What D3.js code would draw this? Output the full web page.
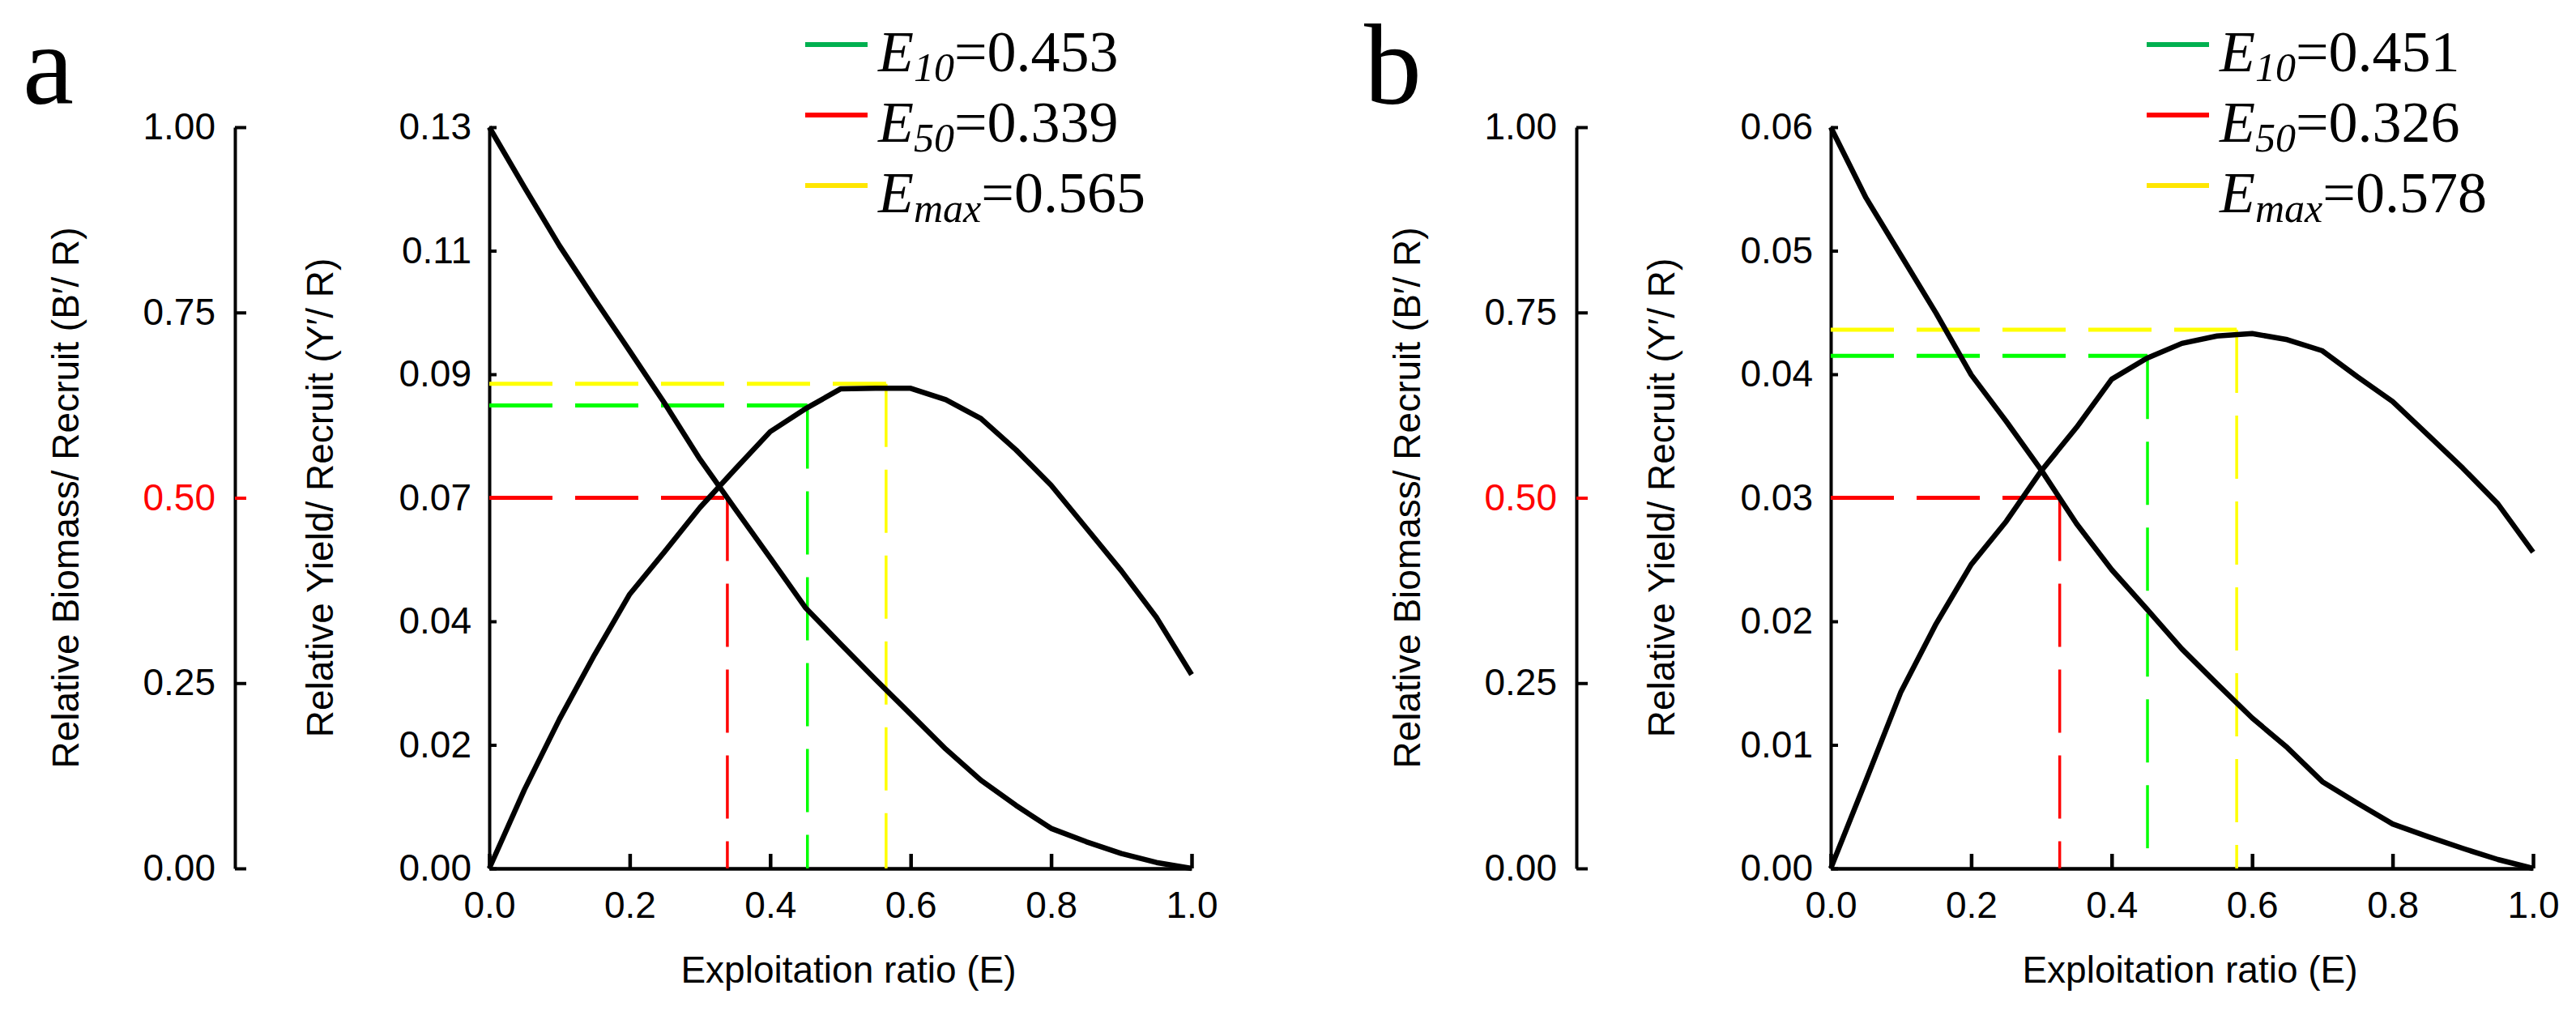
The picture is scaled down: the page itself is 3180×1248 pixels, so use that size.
<!DOCTYPE html>
<html>
<head>
<meta charset="utf-8">
<script src="https://cdn.jsdelivr.net/npm/d3@7"></script>
<style>
  body { margin: 0; background: #fff; }
</style>
</head>
<body>
<script>
// exploitation ratio grid shared by both panels
const eRatio = [0, 0.05, 0.1, 0.15, 0.2, 0.25, 0.3, 0.35, 0.4, 0.45, 0.5,
                0.55, 0.6, 0.65, 0.7, 0.75, 0.8, 0.85, 0.9, 0.95, 1.0];

// panel a
const biomassA = [1.0, 0.919, 0.840, 0.768, 0.698, 0.627, 0.552, 0.485, 0.419, 0.352, 0.303,
                  0.255, 0.208, 0.161, 0.119, 0.085, 0.054, 0.036, 0.020, 0.008, 0.0];
const yieldA = [0, 0.0138, 0.0262, 0.0375, 0.0481, 0.0556, 0.0633, 0.0700, 0.0766, 0.0806, 0.0841,
                0.0842, 0.0842, 0.0822, 0.0789, 0.0734, 0.0672, 0.0597, 0.0522, 0.0440, 0.0340];
const yTicksA = [0, 0.021667, 0.043333, 0.065, 0.086667, 0.108333, 0.13];
const yTickLabelsA = ["0.00", "0.02", "0.04", "0.07", "0.09", "0.11", "0.13"];
const refA = [0.453, 0.339, 0.565];        // E10, E50, Emax
const refLevelA = [0.0812, 0.5, 0.0850];   // Y'/R at E10, B'/R at E50, Y'/R at Emax

// panel b
const biomassB = [1.0, 0.905, 0.827, 0.749, 0.666, 0.603, 0.537, 0.465, 0.403, 0.350, 0.296,
                  0.249, 0.203, 0.163, 0.117, 0.088, 0.060, 0.043, 0.027, 0.012, 0.0];
const yieldB = [0, 0.0071, 0.0143, 0.0198, 0.0246, 0.0281, 0.0322, 0.0357, 0.0396, 0.0413, 0.0425,
                0.0431, 0.0433, 0.0428, 0.0419, 0.0398, 0.0378, 0.0351, 0.0324, 0.0295, 0.0256];
const yTicksB = [0, 0.01, 0.02, 0.03, 0.04, 0.05, 0.06];
const yTickLabelsB = ["0.00", "0.01", "0.02", "0.03", "0.04", "0.05", "0.06"];
const refB = [0.451, 0.326, 0.578];
const refLevelB = [0.0415, 0.5, 0.0436];

// shared
const biomassTicks = [0, 0.25, 0.5, 0.75, 1];
const xTicks = [0, 0.2, 0.4, 0.6, 0.8, 1.0];
const refSubs = ["10", "50", "max"];
const dashColors = ["#00ff00", "#ff0000", "#ffff00"];
const legendColors = ["#00b050", "#ff0000", "#ffe600"];

const W = 3180, H = 1248;
const TOP = 157, BOTTOM = 1072, X0 = 604, X1 = 1471, LEFTAXIS = 290;
const SANS = "'Liberation Sans', Arial, sans-serif";
const SERIF = "'Liberation Serif', 'Times New Roman', serif";

const svg = d3.select("body").append("svg")
    .attr("width", W).attr("height", H)
    .style("background", "#fff");

function styleAxis(sel, width) {
    sel.attr("font-family", SANS).attr("font-size", 46);
    sel.select(".domain").attr("stroke-width", width);
    sel.selectAll(".tick line").attr("stroke-width", width);
    sel.selectAll(".tick text").attr("fill", "#000");
}

function drawPanel(p) {
    const g = svg.append("g").attr("transform", "translate(" + p.dx + ",0)");
    const x = d3.scaleLinear().domain([0, 1]).range([X0, X1]);
    const yB = d3.scaleLinear().domain([0, 1]).range([BOTTOM, TOP]);
    const yY = d3.scaleLinear().domain([0, p.yMax]).range([BOTTOM, TOP]);

    // panel letter
    g.append("text").attr("x", 28).attr("y", 128)
        .attr("font-family", SERIF).attr("font-size", 142)
        .text(p.letter);

    // biomass axis (left, detached)
    const bAxis = g.append("g").attr("transform", "translate(" + LEFTAXIS + ",0)")
        .call(d3.axisLeft(yB).tickValues(biomassTicks).tickFormat(d3.format(".2f"))
            .tickSizeInner(-14).tickSizeOuter(0).tickPadding(24));
    styleAxis(bAxis, 4);
    const half = bAxis.selectAll(".tick").filter(d => d === 0.5);
    half.select("text").attr("fill", "#ff0000");
    half.select("line").attr("stroke", "#ff0000");

    // yield axis
    const yAxis = g.append("g").attr("transform", "translate(" + X0 + ",0)")
        .call(d3.axisLeft(yY).tickValues(p.yTicks).tickFormat((d, i) => p.yLabels[i])
            .tickSizeInner(-9).tickSizeOuter(0).tickPadding(22));
    styleAxis(yAxis, 4);

    // x axis
    const xAxis = g.append("g").attr("transform", "translate(0," + BOTTOM + ")")
        .call(d3.axisBottom(x).tickValues(xTicks).tickFormat(d3.format(".1f"))
            .tickSizeInner(-18).tickSizeOuter(0).tickPadding(28));
    styleAxis(xAxis, 4.5);

    // axis titles
    g.append("text").attr("transform", "translate(97," + (TOP + BOTTOM) / 2 + ") rotate(-90)")
        .attr("text-anchor", "middle").attr("font-family", SANS).attr("font-size", 46)
        .text("Relative Biomass/ Recruit (B\u2032/ R)");
    g.append("text").attr("transform", "translate(411," + (TOP + BOTTOM) / 2 + ") rotate(-90)")
        .attr("text-anchor", "middle").attr("font-family", SANS).attr("font-size", 46)
        .text("Relative Yield/ Recruit (Y\u2032/ R)");
    g.append("text").attr("x", (X0 + X1) / 2 + 10).attr("y", 1213)
        .attr("text-anchor", "middle").attr("font-family", SANS).attr("font-size", 46)
        .text("Exploitation ratio (E)");

    // reference dashed lines
    p.ref.forEach((e, i) => {
        const yv = i === 1 ? yB(p.level[i]) : yY(p.level[i]);
        g.append("line")
            .attr("x1", X0).attr("x2", x(e)).attr("y1", yv).attr("y2", yv)
            .attr("stroke", dashColors[i]).attr("stroke-width", 5)
            .attr("stroke-dasharray", "78,28");
        g.append("line")
            .attr("x1", x(e)).attr("x2", x(e)).attr("y1", yv).attr("y2", BOTTOM)
            .attr("stroke", dashColors[i]).attr("stroke-width", 3.5)
            .attr("stroke-dasharray", "78,28");
    });

    // curves
    const bLine = d3.line().x((d, i) => x(eRatio[i])).y(d => yB(d));
    const yLine = d3.line().x((d, i) => x(eRatio[i])).y(d => yY(d));
    g.append("path").datum(p.biomass).attr("d", bLine)
        .attr("fill", "none").attr("stroke", "#000").attr("stroke-width", 6.5)
        .attr("stroke-linejoin", "round");
    g.append("path").datum(p.yld).attr("d", yLine)
        .attr("fill", "none").attr("stroke", "#000").attr("stroke-width", 6.5)
        .attr("stroke-linejoin", "round");

    // legend
    const baselines = [88, 175, 262];
    p.ref.forEach((e, i) => {
        g.append("line")
            .attr("x1", 994).attr("x2", 1071)
            .attr("y1", baselines[i] - 33).attr("y2", baselines[i] - 33)
            .attr("stroke", legendColors[i]).attr("stroke-width", 6);
        const t = g.append("text").attr("x", 1084).attr("y", baselines[i])
            .attr("font-family", SERIF).attr("font-size", 72);
        t.append("tspan").attr("font-style", "italic").text("E");
        t.append("tspan").attr("font-style", "italic").attr("font-size", 50)
            .attr("dy", 12).text(refSubs[i]);
        t.append("tspan").attr("dy", -12).text("=" + e.toFixed(3));
    });
}

drawPanel({letter: "a", dx: 0, yMax: 0.13, yTicks: yTicksA, yLabels: yTickLabelsA,
           biomass: biomassA, yld: yieldA, ref: refA, level: refLevelA});
drawPanel({letter: "b", dx: 1656, yMax: 0.06, yTicks: yTicksB, yLabels: yTickLabelsB,
           biomass: biomassB, yld: yieldB, ref: refB, level: refLevelB});
</script>
</body>
</html>
